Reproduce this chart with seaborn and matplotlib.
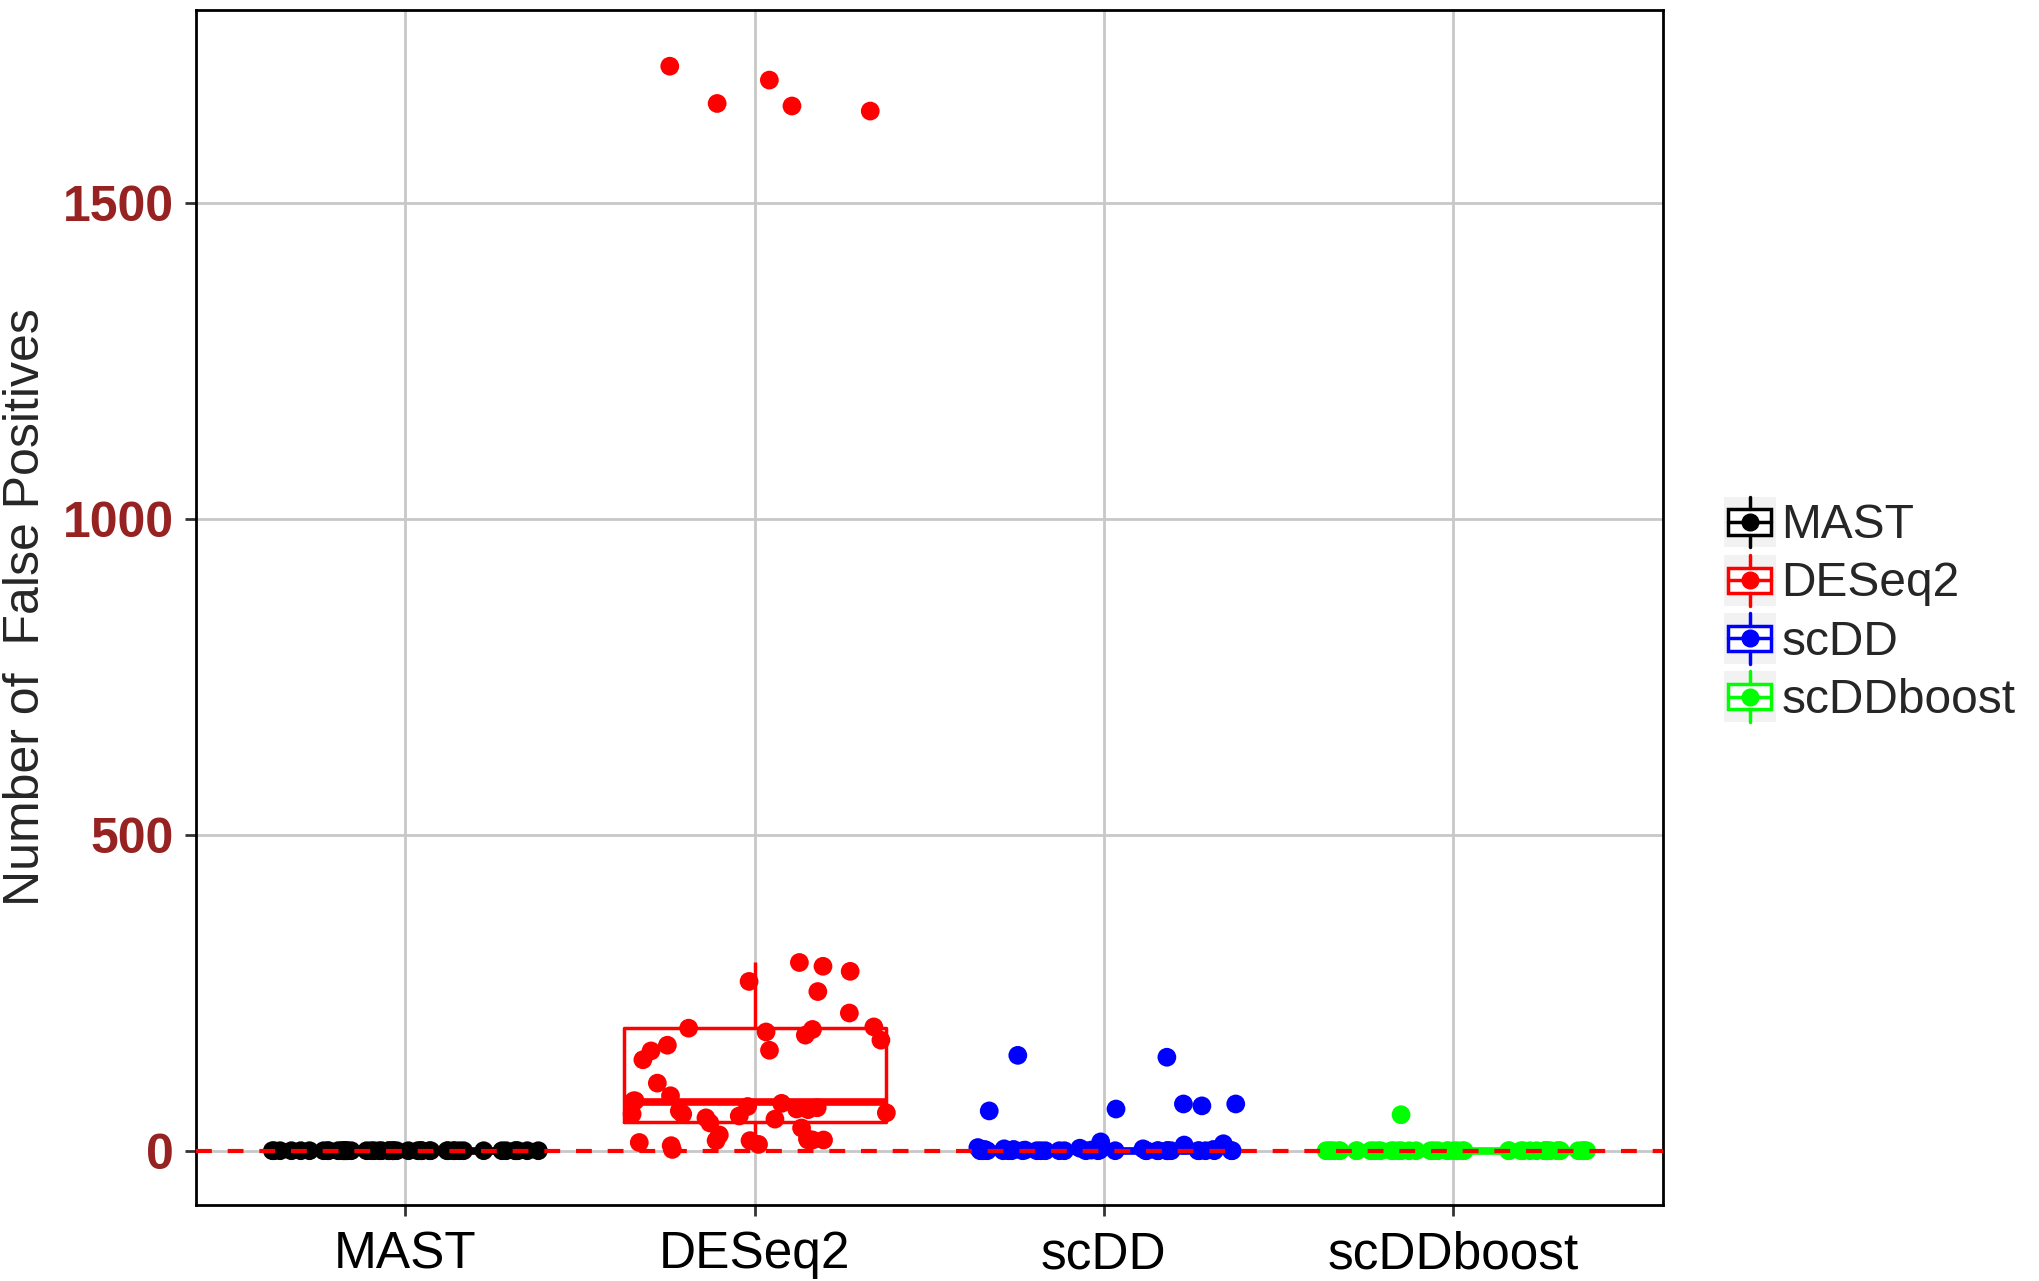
import numpy as np
import pandas as pd
import matplotlib
matplotlib.use("Agg")
import matplotlib.pyplot as plt
import seaborn as sns
from matplotlib.legend_handler import HandlerBase
from matplotlib.patches import Rectangle
from matplotlib.lines import Line2D

# data
methods = ["MAST", "DESeq2", "scDD", "scDDboost"]
colors = ["black", "red", "blue", "#00FF00"]

mast_fp = [0, 0, 0, 0, 0, 0, 0, 0, 0, 0,
           0, 0, 0, 0, 0, 0, 0, 0, 0, 0,
           0, 0, 0, 0, 0, 0, 0, 0, 0, 0,
           0, 0, 0, 0, 0, 0, 0, 0, 0, 0,
           0, 0, 0, 0, 0, 0, 0, 0, 0, 0]
deseq2_fp = [2, 8, 10, 13, 16, 16, 17, 17, 17, 19,
             25, 36, 44, 50, 52, 55, 58, 58, 60, 63,
             65, 66, 68, 70, 75, 79, 79, 87, 107, 144,
             158, 159, 167, 175, 183, 188, 192, 194, 196, 218,
             252, 268, 284, 292, 298, 1646, 1654, 1658, 1695, 1717]
scdd_fp = [151, 148, 74, 74, 71, 66, 63, 14, 11, 9,
           1, 1, 1, 2, 2, 2, 3, 3, 4, 5,
           0, 0, 0, 0, 0, 0, 0, 0, 0, 0,
           0, 0, 0, 0, 0, 0, 0, 0, 0, 0,
           0, 0, 0, 0, 0, 0, 0, 0, 0, 0]
scddboost_fp = [57, 0, 0, 0, 0, 0, 0, 0, 0, 0,
                0, 0, 0, 0, 0, 0, 0, 0, 0, 0,
                0, 0, 0, 0, 0, 0, 0, 0, 0, 0,
                0, 0, 0, 0, 0, 0, 0, 0, 0, 0,
                0, 0, 0, 0, 0, 0, 0, 0, 0, 0]
y_ticks = [0, 500, 1000, 1500]

df = pd.DataFrame({
    "method": (["MAST"] * len(mast_fp) + ["DESeq2"] * len(deseq2_fp)
               + ["scDD"] * len(scdd_fp) + ["scDDboost"] * len(scddboost_fp)),
    "fp": mast_fp + deseq2_fp + scdd_fp + scddboost_fp,
})
pal = dict(zip(methods, colors))

sns.set_style("whitegrid")
plt.rcParams["font.family"] = ["Liberation Sans", "DejaVu Sans"]

fig = plt.figure(figsize=(20.4, 12.81), dpi=100)
ax = fig.add_axes([0.096, 0.0593, 0.719, 0.9329])

sns.boxplot(data=df, x="method", y="fp", hue="method", order=methods,
            hue_order=methods, palette=pal, fill=False, width=0.75,
            showcaps=False, showfliers=False, linewidth=2.5,
            medianprops={"linewidth": 5.5}, legend=False, ax=ax)

np.random.seed(3)
sns.stripplot(data=df, x="method", y="fp", hue="method", order=methods,
              hue_order=methods, palette=pal, jitter=0.4, size=13.5,
              linewidth=0, legend=False, zorder=4, ax=ax)

ax.axhline(0, color="red", linestyle=(0, (3.8, 3.8)), linewidth=3, zorder=6)

ax.set_xlim(-0.6, 3.6)
ax.set_ylim(-86, 1806)
ax.set_yticks(y_ticks)
ax.grid(True, color="#C8C8C8", linewidth=2)
ax.set_axisbelow(True)
for s in ax.spines.values():
    s.set_color("black")
    s.set_linewidth(2)

ax.tick_params(axis="both", length=8, width=2, color="#333333", direction="out",
               left=True, bottom=True)
ax.tick_params(axis="y", pad=8)
ax.tick_params(axis="x", pad=10)
for lab in ax.get_yticklabels():
    lab.set_fontsize(36)
    lab.set_fontweight("bold")
    lab.set_color("#962222")
for lab in ax.get_xticklabels():
    lab.set_fontsize(37)
    lab.set_family(["Liberation Sans Narrow", "Liberation Sans"])
    lab.set_color("black")

ax.set_xlabel("")
ax.set_ylabel("Number of  False Positives", fontsize=36)
ax.yaxis.set_label_coords(-0.100, 0.5)


class BoxKey(HandlerBase):
    def create_artists(self, legend, orig_handle, xdescent, ydescent,
                       width, height, fontsize, trans):
        c = orig_handle.get_color()
        x0, y0 = -xdescent, -ydescent
        cx, cy = x0 + width / 2, y0 + height / 2
        bg = Rectangle((x0, y0), width, height, facecolor="#F2F2F2",
                       edgecolor="none", transform=trans)
        box = Rectangle((x0 + width * 0.08, y0 + height * 0.25), width * 0.84,
                        height * 0.5, facecolor="white", edgecolor=c,
                        linewidth=2.5, transform=trans)
        med = Line2D([x0 + width * 0.08, x0 + width * 0.92], [cy, cy],
                     color=c, linewidth=2.5, transform=trans)
        wu = Line2D([cx, cx], [y0 + height * 0.75, y0 + height], color=c,
                    linewidth=2.5, transform=trans)
        wl = Line2D([cx, cx], [y0, y0 + height * 0.25], color=c,
                    linewidth=2.5, transform=trans)
        dot = Line2D([cx], [cy], marker="o", markersize=12, color=c,
                     linestyle="none", transform=trans)
        return [bg, box, med, wu, wl, dot]


handles = [Line2D([], [], color=c) for c in colors]
fig.legend(handles, methods, handler_map={Line2D: BoxKey()},
           loc="center left", bbox_to_anchor=(0.845, 0.524),
           bbox_transform=fig.transFigure, frameon=False, fontsize=34.5,
           handlelength=1.08, handleheight=1.25, handletextpad=0.12,
           labelspacing=0.14, borderpad=0, borderaxespad=0)

fig.savefig("out.png", dpi=100)
